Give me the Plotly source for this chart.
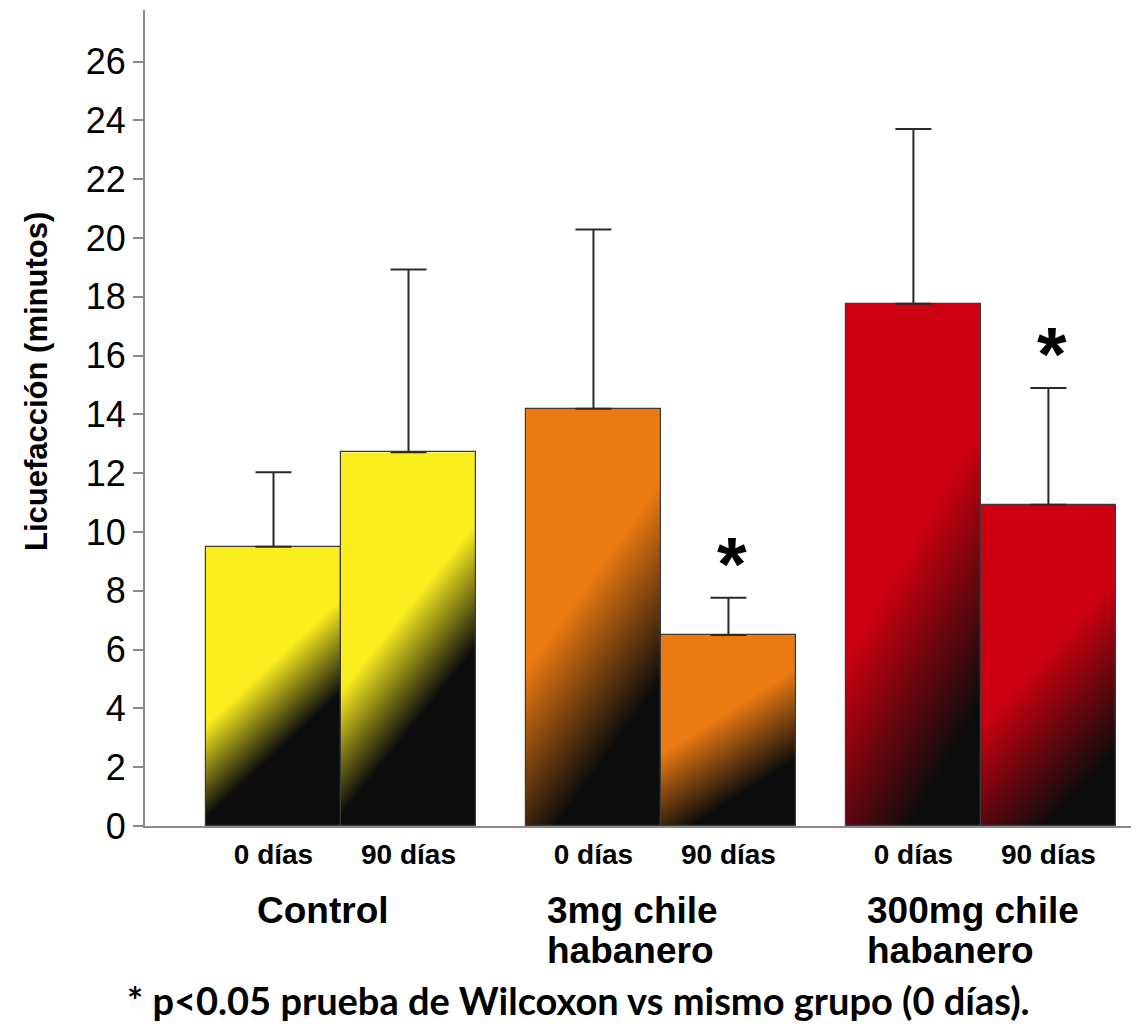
import base64
import plotly.graph_objects as go

# ---------------- data ----------------
groups = ["Control", "3mg chile habanero", "300mg chile habanero"]
group_label_lines = [["Control"], ["3mg chile", "habanero"], ["300mg chile", "habanero"]]
periods = ["0 días", "90 días"]
control_means = [9.5, 12.71]
mg3_means = [14.19, 6.5]
mg300_means = [17.76, 10.93]
control_err = [2.53, 6.22]
mg3_err = [6.10, 1.26]
mg300_err = [5.95, 3.97]
significant = [[False, False], [False, True], [False, True]]
group_colors = ["#FBEE1E", "#EC7A12", "#CC0010"]
y_tick_values = list(range(0, 27, 2))
y_title = "Licuefacción (minutos)"
footnote = "* p<0.05 prueba de Wilcoxon vs mismo grupo (0 días)."

means = [control_means, mg3_means, mg300_means]
errs = [control_err, mg3_err, mg300_err]

# ---------------- layout helpers ----------------
BAR_W = 1.0
GROUP_GAP = 0.37
FONT = "Arial, 'Liberation Sans', sans-serif"
W, H = 1131, 1029
ML, MR, MT, MB = 145, 0, 10, 203

x_centers, y_vals, e_vals, colors, labels, sig = [], [], [], [], [], []
group_centers, group_lefts = [], []
for g in range(len(groups)):
    left = g * (2 * BAR_W + GROUP_GAP)
    group_lefts.append(left)
    group_centers.append(left + BAR_W)
    for p in range(len(periods)):
        x_centers.append(left + p * BAR_W + BAR_W / 2)
        y_vals.append(means[g][p])
        e_vals.append(errs[g][p])
        colors.append(group_colors[g])
        labels.append(periods[p])
        sig.append(significant[g][p])

# diagonal gradient: colour (top-left) -> black (bottom-right)
SLOPE = 0.45
GSCALE = (1 + SLOPE) / (1 + SLOPE ** 2)
grad_stops = {"#FBEE1E": (0.44, 0.67), "#EC7A12": (0.43, 0.76), "#CC0010": (0.47, 0.84)}


def gradient_uri(color):
    c1, c2 = grad_stops[color]
    svg = (
        '<svg xmlns="http://www.w3.org/2000/svg" width="100" height="100" '
        'viewBox="0 0 100 100" preserveAspectRatio="none">'
        f'<defs><linearGradient id="g" x1="0" y1="0" x2="{SLOPE * GSCALE:.4f}" y2="{GSCALE:.4f}">'
        f'<stop offset="0" stop-color="{color}"/>'
        f'<stop offset="{c1}" stop-color="{color}"/>'
        f'<stop offset="{c2}" stop-color="#0c0c0c"/>'
        '<stop offset="1" stop-color="#0c0c0c"/>'
        '</linearGradient></defs>'
        '<rect x="0" y="0" width="100" height="100" fill="url(#g)"/></svg>'
    )
    return "data:image/svg+xml;base64," + base64.b64encode(svg.encode("utf-8")).decode("ascii")


fig = go.Figure()
fig.add_trace(
    go.Bar(
        x=x_centers,
        y=y_vals,
        width=BAR_W,
        marker=dict(color="rgba(0,0,0,0)", line=dict(color="#3a3a3a", width=1.2)),
        error_y=dict(
            type="data",
            symmetric=False,
            array=e_vals,
            arrayminus=[0] * len(e_vals),
            color="#2a2a2a",
            thickness=2,
            width=18,
        ),
        showlegend=False,
        hoverinfo="skip",
    )
)

images = []
for xc, yv, col in zip(x_centers, y_vals, colors):
    images.append(
        dict(
            source=gradient_uri(col),
            xref="x",
            yref="y",
            x=xc - BAR_W / 2,
            y=yv,
            sizex=BAR_W,
            sizey=yv,
            xanchor="left",
            yanchor="top",
            sizing="stretch",
            layer="below",
        )
    )

annotations = []
# y axis title
annotations.append(
    dict(
        text=y_title, xref="paper", yref="paper",
        x=(36 - ML) / (W - ML - MR), y=(H - MB - 382) / (H - MB - MT),
        xanchor="center", yanchor="middle", textangle=-90, showarrow=False,
        font=dict(family=FONT, size=31, color="#000000", weight="bold"),
    )
)
# group labels
for g, lines in enumerate(group_label_lines):
    for i, line in enumerate(lines):
        if len(lines) == 1:
            xa, xv, xs = "center", group_centers[g], -18
        else:
            xa, xv, xs = "left", group_lefts[g], 19
        annotations.append(
            dict(
                text=line, xref="x", yref="paper", x=xv, y=0,
                xanchor=xa, yanchor="middle", xshift=xs, yshift=-(84 + 40 * i),
                showarrow=False,
                font=dict(family=FONT, size=37, color="#000000", weight="bold"),
            )
        )
# significance asterisks
for xc, yv, ev, s in zip(x_centers, y_vals, e_vals, sig):
    if s:
        annotations.append(
            dict(
                text="*", xref="x", yref="y", x=xc, y=yv + ev,
                xanchor="center", yanchor="bottom", xshift=4, yshift=-10,
                showarrow=False,
                font=dict(family=FONT, size=76, color="#000000", weight="bold"),
            )
        )
# footnote
annotations.append(
    dict(
        text=footnote, xref="paper", yref="paper",
        x=(125 - ML) / (W - ML - MR), y=0, xanchor="left", yanchor="middle",
        yshift=-(1000 - (H - MB)), showarrow=False,
        font=dict(family="Lato, 'Open Sans', sans-serif", size=38, color="#000000", weight="bold"),
    )
)

x_min = -(206 - ML) / 135.0
x_max = x_min + (W - ML - MR) / 135.0

fig.update_layout(
    width=W,
    height=H,
    margin=dict(l=ML, r=MR, t=MT, b=MB, pad=0),
    paper_bgcolor="#ffffff",
    plot_bgcolor="rgba(0,0,0,0)",
    bargap=0,
    images=images,
    annotations=annotations,
    xaxis=dict(
        range=[x_min, x_max],
        tickmode="array",
        tickvals=x_centers,
        ticktext=labels,
        ticks="",
        showgrid=False,
        zeroline=False,
        showline=True,
        linecolor="#8a8a8a",
        linewidth=2,
        tickfont=dict(family=FONT, size=28, color="#000000", weight="bold"),
        ticklabelstandoff=2,
        fixedrange=True,
    ),
    yaxis=dict(
        range=[0, (H - MB - MT) / 29.4],
        tickmode="array",
        tickvals=y_tick_values,
        ticktext=[str(v) for v in y_tick_values],
        ticks="outside",
        ticklen=10,
        tickwidth=2,
        tickcolor="#8a8a8a",
        showgrid=False,
        zeroline=False,
        showline=True,
        linecolor="#8a8a8a",
        linewidth=2,
        tickfont=dict(family=FONT, size=36, color="#000000"),
        fixedrange=True,
    ),
)

fig.write_html("out.html")
